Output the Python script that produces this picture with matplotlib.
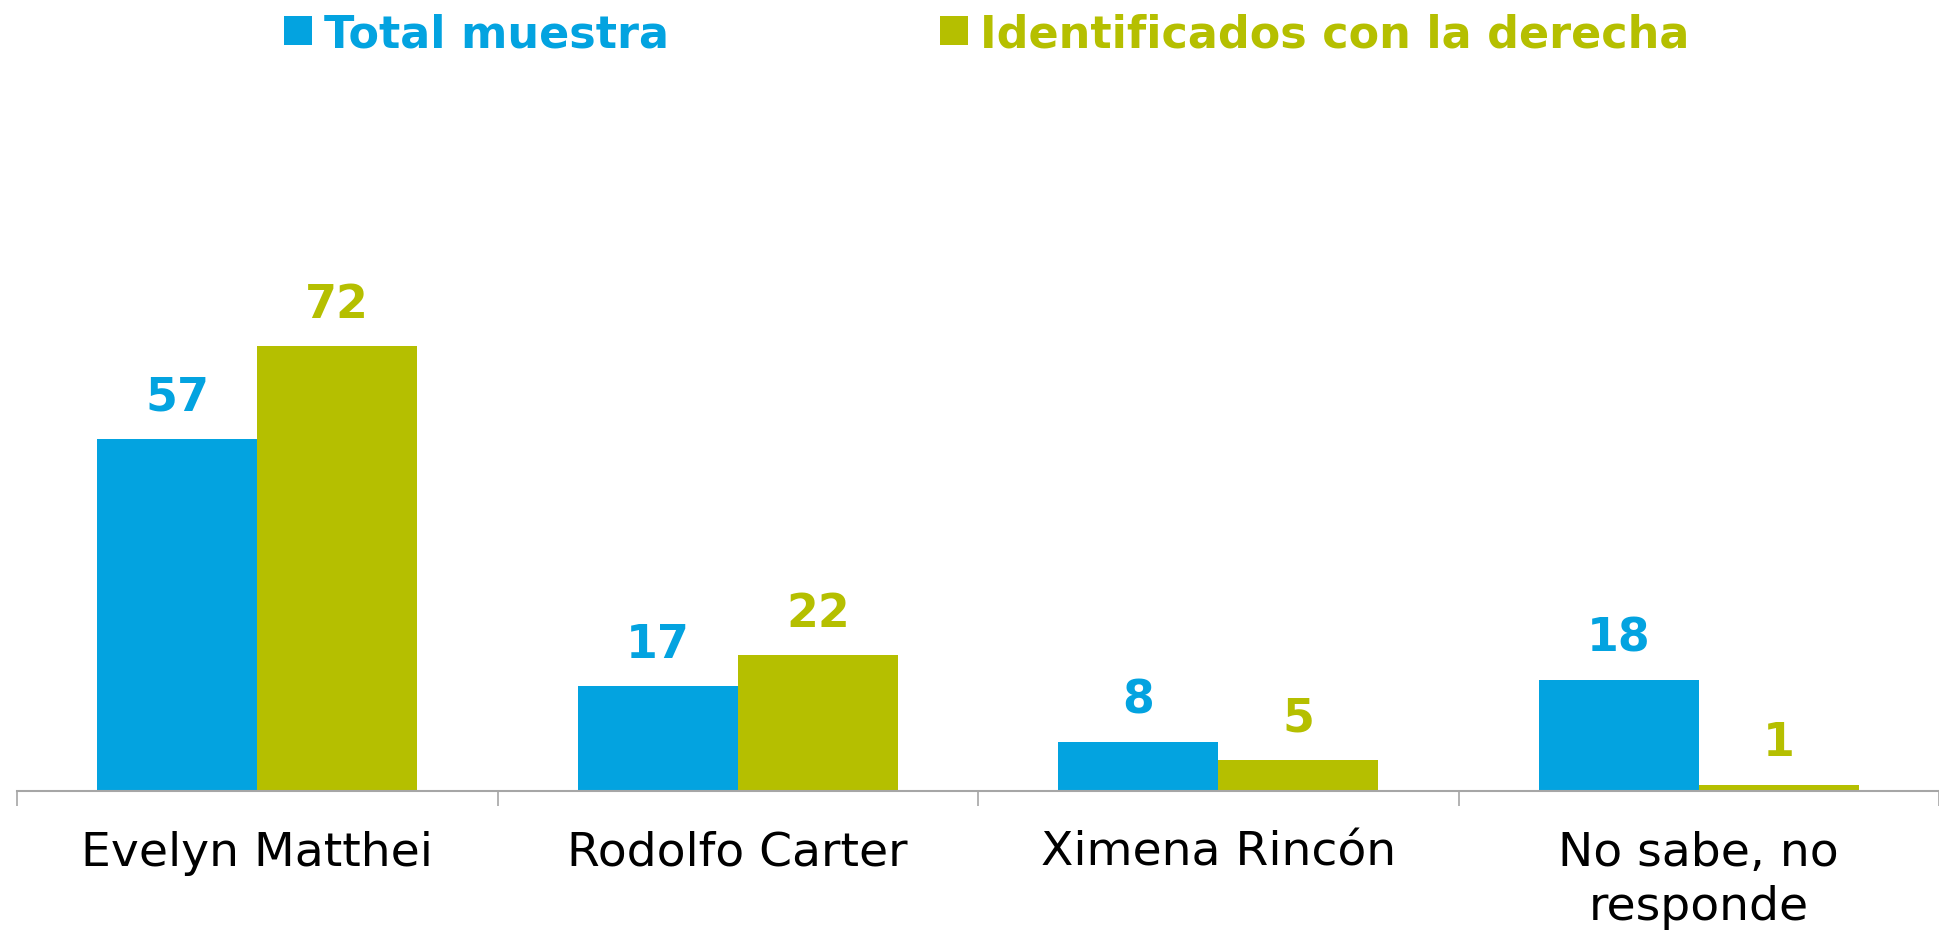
import matplotlib
matplotlib.use("Agg")
import matplotlib.pyplot as plt
import numpy as np

categories = ["Evelyn Matthei", "Rodolfo Carter", "Ximena Rincón", "No sabe, no\nresponde"]
series_names = ["Total muestra", "Identificados con la derecha"]
total_muestra = [57, 17, 8, 18]
derecha = [72, 22, 5, 1]

BLUE = "#03A3E0"
GREEN = "#B5BF00"
GRAY = "#A6A6A6"

W, H, DPI = 1939, 937, 100
fig = plt.figure(figsize=(W / DPI, H / DPI), dpi=DPI)
ax = fig.add_axes([17 / W, (H - 792) / H, (W - 17) / W, 692 / H])

x = np.arange(len(categories))
bw = 0.333
b1 = ax.bar(x - bw / 2, total_muestra, bw, color=BLUE, label=series_names[0], zorder=2)
b2 = ax.bar(x + bw / 2, derecha, bw, color=GREEN, label=series_names[1], zorder=2)

for bars, vals, col in [(b1, total_muestra, BLUE), (b2, derecha, GREEN)]:
    for rect, v in zip(bars, vals):
        ax.annotate(str(v), (rect.get_x() + rect.get_width() / 2, v),
                    xytext=(0, 14), textcoords="offset points",
                    ha="center", va="bottom", color=col,
                    fontsize=33, fontweight="bold", family="DejaVu Sans")

ax.set_xlim(-0.5, len(categories) - 0.5)
ax.set_ylim(0, 112)
ax.set_yticks([])
for s in ["top", "right", "left"]:
    ax.spines[s].set_visible(False)
ax.spines["bottom"].set_color(GRAY)
ax.spines["bottom"].set_linewidth(1.5)

ax.set_xticks(x)
ax.set_xticklabels(categories, fontsize=34, color="black", linespacing=1.27)
ax.tick_params(axis="x", which="major", length=0, pad=28)
ax.set_xticks(np.arange(-0.5, len(categories), 1.0), minor=True)
ax.tick_params(axis="x", which="minor", length=11, width=1.2, color=GRAY)

leg = fig.legend(handles=[b1, b2], labels=series_names, loc="upper left",
                 bbox_to_anchor=(284 / W, 1 - 13 / H), ncol=2, frameon=False,
                 prop={"family": "DejaVu Sans", "weight": "bold", "size": 32},
                 handlelength=0.63, handleheight=0.63, handletextpad=0.27,
                 columnspacing=6.1, borderaxespad=0, borderpad=0)
for t, c in zip(leg.get_texts(), [BLUE, GREEN]):
    t.set_color(c)

fig.savefig("out.png", dpi=DPI)
